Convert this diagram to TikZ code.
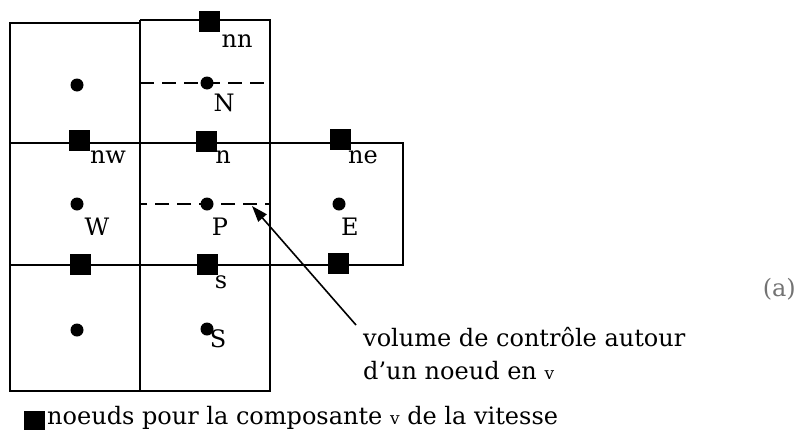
\documentclass[tikz,border=0pt]{standalone}
\usepackage{fontspec}
\setmainfont{DejaVu Serif}
\usetikzlibrary{arrows.meta}
\newcommand\vsym{{\fontsize{17}{17}\selectfont v}}
\begin{document}
\begin{tikzpicture}[x=1pt,y=-1pt,
  gridline/.style={line width=2.3pt,black},
  cvline/.style={line width=2.3pt,dash pattern=on 14pt off 8pt},
  vnode/.style={fill=black,minimum width=21pt,minimum height=21pt,inner sep=0pt},
  pnode/.style={circle,fill=black,minimum size=13pt,inner sep=0pt},
  lab/.style={font=\fontsize{24}{26}\selectfont,inner sep=0pt},
  txt/.style={font=\fontsize{24}{33}\selectfont,inner sep=0pt,align=left}
]
\useasboundingbox (0,0) rectangle (797,434);
% grid
\draw[gridline] (10,143) -- (10,23) -- (140,23);
\draw[gridline] (140,20) -- (270,20) -- (270,143);
\draw[gridline] (10,143) -- (403,143) -- (403,265) -- (10,265);
\draw[gridline] (10,143) -- (10,391) -- (270,391) -- (270,265);
\draw[gridline] (140,20) -- (140,391);
\draw[gridline] (270,143) -- (270,265);
% control volume
\draw[cvline] (140,83) -- (270,83) -- (270,204) -- (140,204) -- cycle;
% v nodes
\node[vnode] (nn) at (209,21) {};
\node[vnode] (nw) at (79,140) {};
\node[vnode] (n)  at (206,141) {};
\node[vnode] (ne) at (340,139) {};
\node[vnode] (sw) at (80,264) {};
\node[vnode] (s)  at (207,264) {};
\node[vnode] (se) at (338,263) {};
% p nodes
\node[pnode] (NW) at (77,85) {};
\node[pnode] (N)  at (207,83) {};
\node[pnode] (W)  at (77,204) {};
\node[pnode] (P)  at (207,204) {};
\node[pnode] (E)  at (339,204) {};
\node[pnode] (SW) at (77,330) {};
\node[pnode] (S)  at (207,329) {};
% labels
\node[lab] (lnn) at (237,41) {nn};
\node[lab] (lN)  at (224,103) {N};
\node[lab] (lnw) at (108,157) {nw};
\node[lab] (ln)  at (223,157) {n};
\node[lab] (lne) at (363,157) {ne};
\node[lab] (lW)  at (97,227) {W};
\node[lab] (lP)  at (220,227) {P};
\node[lab] (lE)  at (350,227) {E};
\node[lab] (ls)  at (221,282) {s};
\node[lab] (lS)  at (218,339) {S};
% annotation
\node[txt,anchor=west] (cv) at (363,337) {volume de contrôle autour};
\node[txt,anchor=west] (cv2) at (363,371) {d’un noeud en \vsym};
\coordinate (tip) at (252,206);
\coordinate (tail) at (356,325);
\draw[line width=1.6pt,-{Triangle[length=16pt,width=11pt]}] (tail) -- (tip);
% legend
\node[fill=black,minimum width=21pt,minimum height=19pt,inner sep=0pt] (key) at (34,420) {};
\node[txt,anchor=west] (legend) at (47,418) {noeuds pour la composante \vsym\ de la vitesse};
\node[lab,text=black!55,anchor=east] (tag) at (796,289) {(a)};
\end{tikzpicture}
\end{document}
